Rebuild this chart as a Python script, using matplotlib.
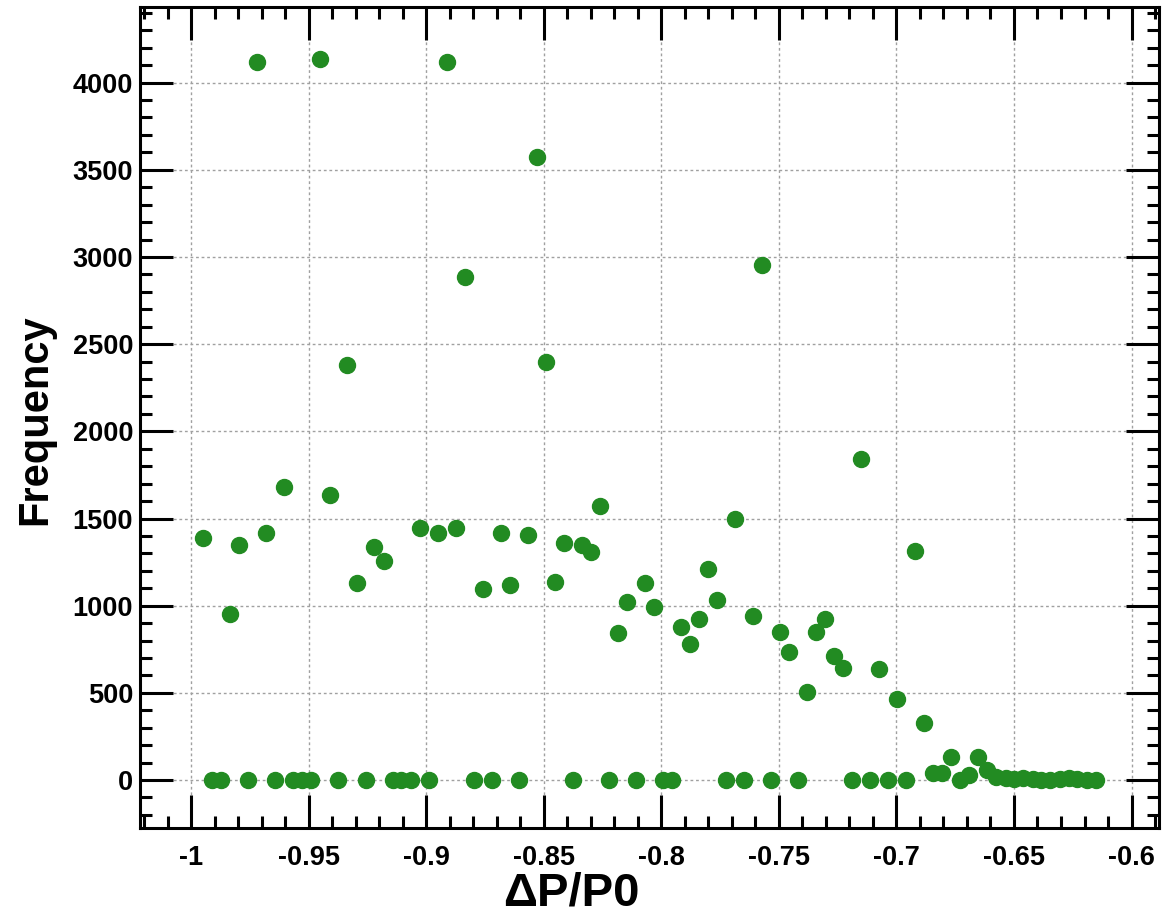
import numpy as np
import matplotlib.pyplot as plt
from matplotlib.ticker import MultipleLocator

# bin centres of dP/P0
dp_p0 = [-0.9948, -0.9910, -0.9871, -0.9833, -0.9795, -0.9756, -0.9718, -0.9680, -0.9641, -0.9603,
         -0.9565, -0.9526, -0.9488, -0.9450, -0.9411, -0.9373, -0.9335, -0.9296, -0.9258, -0.9220,
         -0.9181, -0.9143, -0.9105, -0.9066, -0.9028, -0.8990, -0.8951, -0.8913, -0.8875, -0.8836,
         -0.8798, -0.8760, -0.8721, -0.8683, -0.8645, -0.8606, -0.8568, -0.8530, -0.8491, -0.8453,
         -0.8415, -0.8376, -0.8338, -0.8300, -0.8261, -0.8223, -0.8185, -0.8146, -0.8108, -0.8070,
         -0.8031, -0.7993, -0.7955, -0.7916, -0.7878, -0.7840, -0.7801, -0.7763, -0.7725, -0.7686,
         -0.7648, -0.7610, -0.7571, -0.7533, -0.7495, -0.7456, -0.7418, -0.7380, -0.7341, -0.7303,
         -0.7265, -0.7226, -0.7188, -0.7150, -0.7111, -0.7073, -0.7035, -0.6996, -0.6958, -0.6920,
         -0.6881, -0.6843, -0.6805, -0.6766, -0.6728, -0.6690, -0.6651, -0.6613, -0.6575, -0.6536,
         -0.6498, -0.6460, -0.6421, -0.6383, -0.6345, -0.6306, -0.6268, -0.6230, -0.6191, -0.6153]

frequency = [1386, 0, 0, 950, 1346, 0, 4116, 1415, 0, 1682,
             0, 0, 0, 4135, 1633, 0, 2380, 1128, 0, 1336,
             1256, 0, 0, 0, 1445, 0, 1415, 4116, 1445, 2887,
             0, 1097, 0, 1415, 1118, 0, 1405, 3571, 2399, 1138,
             1357, 0, 1348, 1306, 1573, 0, 841, 1021, 0, 1130,
             990, 0, 0, 879, 780, 922, 1208, 1031, 0, 1497,
             0, 941, 2954, 0, 851, 732, 0, 503, 851, 922,
             711, 642, 0, 1841, 0, 635, 0, 465, 0, 1315,
             325, 40, 40, 134, 0, 29, 134, 57, 19, 10,
             8, 12, 5, 3, 2, 5, 12, 4, 2, 0]

xticks = [-1, -0.95, -0.9, -0.85, -0.8, -0.75, -0.7, -0.65, -0.6]
xtick_labels = ['-1', '-0.95', '-0.9', '-0.85', '-0.8', '-0.75', '-0.7', '-0.65', '-0.6']
yticks = [0, 500, 1000, 1500, 2000, 2500, 3000, 3500, 4000]

plt.rcParams['font.family'] = ['Liberation Sans', 'DejaVu Sans']

fig = plt.figure(figsize=(11.63, 9.16), dpi=100)
ax = fig.add_axes([0.1204, 0.0961, 0.8762, 0.8963])

ax.plot(dp_p0, frequency, 'o', color='#228B22', ms=11.5, mec='#228B22', zorder=3)

ax.set_xlim(-1.0217, -0.5883)
ax.set_ylim(-275, 4434)

ax.set_xticks(xticks)
ax.set_xticklabels(xtick_labels)
ax.set_yticks(yticks)
ax.xaxis.set_minor_locator(MultipleLocator(0.01))
ax.yaxis.set_minor_locator(MultipleLocator(100))

ax.tick_params(which='both', direction='in', top=True, right=True, width=2.2,
               labelsize=19.5)
ax.tick_params(which='major', length=24)
ax.tick_params(which='minor', length=8.5)
ax.tick_params(axis='x', pad=12)
ax.tick_params(axis='y', pad=5)
for lbl in ax.get_xticklabels() + ax.get_yticklabels():
    lbl.set_fontweight('bold')
for s in ax.spines.values():
    s.set_linewidth(2.2)

ax.grid(True, which='major', color='#a0a0a0', linestyle=(0, (2, 2)), linewidth=1)
ax.set_axisbelow(True)

ax.set_xlabel('ΔP/P0', fontsize=34, fontweight='bold')
ax.set_ylabel('Frequency', fontsize=30, fontweight='bold')
ax.xaxis.set_label_coords((571 - 140) / 1019, -66 / 821)
ax.yaxis.set_label_coords(-105 / 1019, 0.497)
ax.xaxis.label.set_va('center')
ax.yaxis.label.set_va('center')

fig.savefig('out.png', dpi=100)
